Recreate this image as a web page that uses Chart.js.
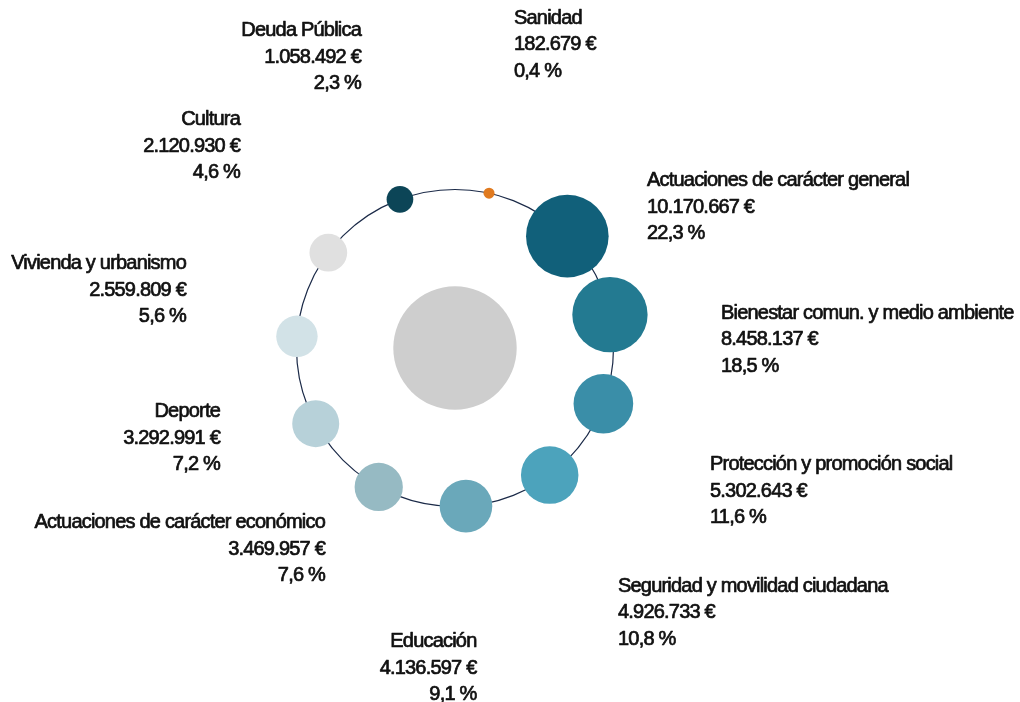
<!DOCTYPE html>
<html lang="es">
<head>
<meta charset="utf-8">
<title>Distribución del gasto por áreas</title>
<script src="https://cdn.jsdelivr.net/npm/chart.js@4.4.1/dist/chart.umd.min.js"></script>
<style>
  html, body { margin: 0; padding: 0; background: #ffffff; }
  #wrap { width: 1020px; height: 702px; position: relative; }
</style>
</head>
<body>
<div id="wrap"><canvas id="chart"></canvas></div>
<script>
// Spending areas, listed clockwise around the ring
const categories = [
  'Sanidad',
  'Actuaciones de carácter general',
  'Bienestar comun. y medio ambiente',
  'Protección y promoción social',
  'Seguridad y movilidad ciudadana',
  'Educación',
  'Actuaciones de carácter económico',
  'Deporte',
  'Vivienda y urbanismo',
  'Cultura',
  'Deuda Pública'
];
// Amounts in euros
const amounts = [182679, 10170667, 8458137, 5302643, 4926733, 4136597, 3469957, 3292991, 2559809, 2120930, 1058492];
// Share of the total, in percent
const shares = [0.4, 22.3, 18.5, 11.6, 10.8, 9.1, 7.6, 7.2, 5.6, 4.6, 2.3];

// Styling
const bubbleColors = ['#e07a1f', '#11607a', '#237a91', '#3a8ea8', '#4ca3bc', '#6aa8ba',
                      '#96bac3', '#b7d1d9', '#d2e2e7', '#e0e0e0', '#0c4557'];
const centerColor = '#cecece';
const ringColor = '#1b2a48';
const textColor = '#111111';

// Layout (in plot units, which map 1:1 to pixels)
const W = 1020, H = 702;
const CX = 455, CY = 348;      // ring centre
const RING_R = 158.5;          // ring radius through the bubble centres
const START_DEG = 12.4;        // angle of the first bubble, clockwise from the top
const CENTER_R = 61.7;         // central disc
const AREA_K = 0.01295;        // bubble radius = AREA_K * sqrt(amount)

// Label anchors: text edge x, first-line baseline y, alignment
const labelLayout = [
  { x: 514, y: 23.5, align: 'left' },
  { x: 647, y: 186, align: 'left' },
  { x: 721, y: 318.5, align: 'left' },
  { x: 710, y: 470, align: 'left' },
  { x: 618, y: 591.5, align: 'left' },
  { x: 476.5, y: 647, align: 'right' },
  { x: 325, y: 528, align: 'right' },
  { x: 220, y: 417, align: 'right' },
  { x: 186, y: 269, align: 'right' },
  { x: 240, y: 125, align: 'right' },
  { x: 361, y: 36, align: 'right' }
];
const LINE_GAP = 26.7;
const FONT = "20px 'Liberation Sans', Arial, sans-serif";

function fmtAmount(v) {
  return String(v).replace(/\B(?=(\d{3})+(?!\d))/g, '.') + ' €';
}
function fmtShare(v) {
  return v.toFixed(1).replace('.', ',') + ' %';
}

const step = 360 / categories.length;
const ringPoints = categories.map((c, i) => {
  const a = (START_DEG + i * step) * Math.PI / 180;
  return {
    x: CX + RING_R * Math.sin(a),
    y: CY - RING_R * Math.cos(a),
    r: AREA_K * Math.sqrt(amounts[i])
  };
});

// Thin circle joining the bubbles, drawn under them
const ringPlugin = {
  id: 'ring',
  beforeDatasetsDraw(chart) {
    const xs = chart.scales.x, ys = chart.scales.y;
    const px = xs.getPixelForValue(CX), py = ys.getPixelForValue(CY);
    const pr = xs.getPixelForValue(CX + RING_R) - px;
    const ctx = chart.ctx;
    ctx.save();
    ctx.beginPath();
    ctx.arc(px, py, pr, 0, Math.PI * 2);
    ctx.strokeStyle = ringColor;
    ctx.lineWidth = 1.2;
    ctx.stroke();
    ctx.restore();
  }
};

// Three-line labels: name, amount, share
const labelPlugin = {
  id: 'ringLabels',
  afterDatasetsDraw(chart) {
    const xs = chart.scales.x, ys = chart.scales.y;
    const ctx = chart.ctx;
    ctx.save();
    ctx.font = FONT;
    ctx.fillStyle = textColor;
    ctx.strokeStyle = textColor;
    ctx.lineWidth = 0.7;
    ctx.lineJoin = 'round';
    ctx.textBaseline = 'alphabetic';
    if ('letterSpacing' in ctx) ctx.letterSpacing = '-0.8px';
    categories.forEach((name, i) => {
      const L = labelLayout[i];
      ctx.textAlign = L.align;
      const lines = [name, fmtAmount(amounts[i]), fmtShare(shares[i])];
      lines.forEach((t, j) => {
        const px = xs.getPixelForValue(L.x);
        const py = ys.getPixelForValue(L.y + j * LINE_GAP);
        ctx.fillText(t, px, py);
        ctx.strokeText(t, px, py);
      });
    });
    ctx.restore();
  }
};

new Chart(document.getElementById('chart'), {
  type: 'bubble',
  data: {
    datasets: [
      {
        label: 'Total',
        data: [{ x: CX, y: CY, r: CENTER_R }],
        backgroundColor: centerColor,
        borderWidth: 0,
        hoverBorderWidth: 0,
        clip: false,
        order: 2
      },
      {
        label: 'Áreas de gasto',
        data: ringPoints,
        backgroundColor: bubbleColors,
        borderWidth: 0,
        hoverBorderWidth: 0,
        clip: false,
        order: 1
      }
    ]
  },
  options: {
    responsive: true,
    maintainAspectRatio: false,
    animation: false,
    layout: { padding: 0, autoPadding: false },
    plugins: {
      legend: { display: false },
      tooltip: { enabled: false }
    },
    events: [],
    scales: {
      x: { type: 'linear', min: 0, max: W, display: false },
      y: { type: 'linear', min: 0, max: H, reverse: true, display: false }
    }
  },
  plugins: [ringPlugin, labelPlugin]
});
</script>
</body>
</html>
